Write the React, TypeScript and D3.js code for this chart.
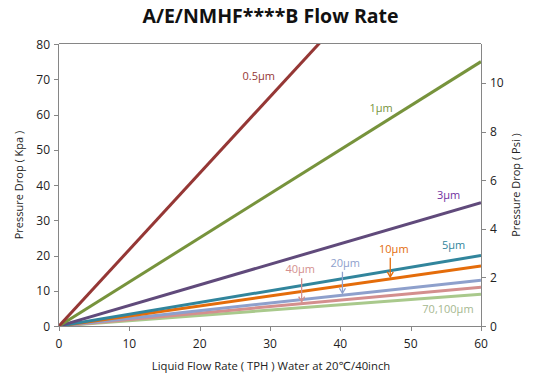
import * as d3 from 'd3';
import React from 'react';

// flow rate (TPH) and pressure drop (kPa) per filter grade
const grades = ['0.5µm', '1µm', '3µm', '5µm', '10µm', '20µm', '40µm', '70,100µm'];
const flowPoints = [0, 60];
const dropAt60 = [130, 75, 35, 20, 17, 13, 11, 9];
const lineColors = ['#953735', '#77933C', '#604A7B', '#31859C', '#E46C0A', '#8EA0CC', '#D48F8E', '#A9C98C'];
const labelColors = ['#953735', '#77933C', '#7030A0', '#31859C', '#E46C0A', '#8EA0CC', '#D48F8E', '#A6B890'];
// label anchor in data coords [flow, kPa]; arrow target flow for pointed labels
const labelPos: [number, number][] = [
  [28.4, 69.8], [45.8, 60.8], [55.4, 36], [56.1, 21.8], [47.6, 20.8], [40.7, 16.8], [34.3, 15], [55.3, 3.6]
];
const arrowTo: (number | null)[] = [null, null, null, null, 47.1, 40.3, 34.5, null];

const xTicks = [0, 10, 20, 30, 40, 50, 60];
const yTicks = [0, 10, 20, 30, 40, 50, 60, 70, 80];
const psiTicks = [0, 2, 4, 6, 8, 10];
const KPA_PER_PSI = 6.895;

const W = 537;
const H = 385;
const m = { left: 59, right: 56, top: 44, bottom: 59 };
const font = '"Open Sans", "DejaVu Sans", sans-serif';

export default function App() {
  const x = d3.scaleLinear().domain([0, 60]).range([m.left, W - m.right]);
  const y = d3.scaleLinear().domain([0, 80]).range([H - m.bottom, m.top]);
  const yPsi = d3.scaleLinear().domain([0, 80 / KPA_PER_PSI]).range([H - m.bottom, m.top]);
  const line = d3
    .line<[number, number]>()
    .x((d) => x(d[0]))
    .y((d) => y(d[1]));
  const axisColor = '#868686';
  const bottom = H - m.bottom;

  return (
    <svg width={W} height={H} style={{ position: 'absolute', left: 0, top: 0, background: '#fff' }} fontFamily={font}>
      <defs>
        <clipPath id="plot">
          <rect x={m.left} y={m.top} width={x(60) - x(0)} height={bottom - m.top} />
        </clipPath>
      </defs>
      <text x={270.5} y={23} textAnchor="middle" fontSize={19.5} fontWeight="bold" fill="#111">
        A/E/NMHF****B Flow Rate
      </text>

      {/* frame */}
      <line x1={x(0)} x2={x(60)} y1={m.top - 0.5} y2={m.top - 0.5} stroke={axisColor} />
      <line x1={x(0)} x2={x(60)} y1={bottom + 0.5} y2={bottom + 0.5} stroke={axisColor} />
      <line x1={x(0) - 0.5} x2={x(0) - 0.5} y1={m.top} y2={bottom} stroke={axisColor} />
      <line x1={x(60) + 0.5} x2={x(60) + 0.5} y1={m.top} y2={bottom} stroke={axisColor} />

      {yTicks.map((t) => (
        <g key={'y' + t}>
          <line x1={x(0) - 5} x2={x(0)} y1={Math.round(y(t)) + 0.5} y2={Math.round(y(t)) + 0.5} stroke={axisColor} />
          <text x={x(0) - 9} y={y(t) + 4.5} textAnchor="end" fontSize={12} fill="#222">{t}</text>
        </g>
      ))}
      {psiTicks.map((t) => (
        <g key={'p' + t}>
          <line x1={x(60)} x2={x(60) + 5} y1={Math.round(yPsi(t)) + 0.5} y2={Math.round(yPsi(t)) + 0.5} stroke={axisColor} />
          <text x={x(60) + 9} y={yPsi(t) + 4.5} textAnchor="start" fontSize={12} fill="#222">{t}</text>
        </g>
      ))}
      {xTicks.map((t) => (
        <g key={'x' + t}>
          <line x1={Math.round(x(t)) + 0.5} x2={Math.round(x(t)) + 0.5} y1={bottom} y2={bottom + 5} stroke={axisColor} />
          <text x={x(t)} y={bottom + 22} textAnchor="middle" fontSize={12} fill="#222">{t}</text>
        </g>
      ))}

      <text transform={`translate(23,${(m.top + bottom) / 2}) rotate(-90)`} textAnchor="middle" fontSize={11} fill="#222">
        Pressure Drop ( Kpa )
      </text>
      <text transform={`translate(520,${(m.top + bottom) / 2}) rotate(-90)`} textAnchor="middle" fontSize={11} fill="#222">
        Pressure Drop ( Psi )
      </text>
      <text x={271} y={370} textAnchor="middle" fontSize={11.3} fill="#222">
        Liquid Flow Rate ( TPH ) Water at 20℃/40inch
      </text>

      <g clipPath="url(#plot)">
        {grades
          .map((g, i) => (
            <path
              key={g}
              d={line(flowPoints.map((f) => [f, (dropAt60[i] * f) / 60] as [number, number])) || ''}
              fill="none"
              stroke={lineColors[i]}
              strokeWidth={3}
            />
          ))
          .reverse()}
      </g>

      {grades.map((g, i) => {
        const [lx, ly] = labelPos[i];
        const target = arrowTo[i];
        const ty = target !== null ? y((dropAt60[i] * target) / 60) - 2 : 0;
        return (
          <g key={'l' + g}>
            <text x={x(lx)} y={y(ly)} textAnchor="middle" fontSize={11} fill={labelColors[i]}>
              {g}
            </text>
            {target !== null && (
              <g stroke={lineColors[i]} strokeWidth={1.3} fill="none">
                <line x1={x(target)} x2={x(target)} y1={y(ly) + 5} y2={ty} />
                <path d={`M${x(target) - 3},${ty - 5} L${x(target)},${ty} L${x(target) + 3},${ty - 5}`} />
              </g>
            )}
          </g>
        );
      })}
    </svg>
  );
}
